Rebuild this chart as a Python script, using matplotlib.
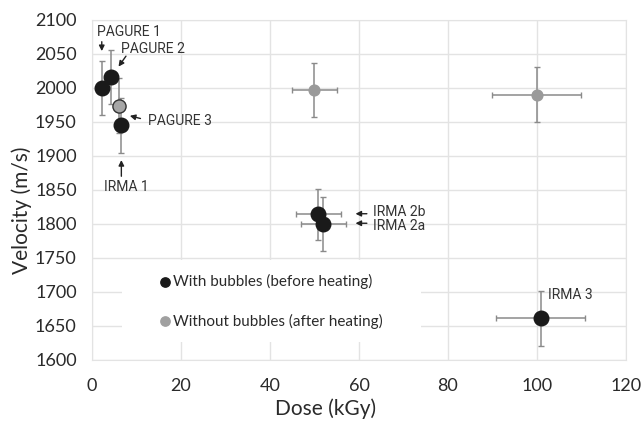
import matplotlib
matplotlib.use("Agg")
import matplotlib.pyplot as plt
from matplotlib.patches import Rectangle

plt.rcParams['font.family'] = ['Lato', 'DejaVu Sans']

# With bubbles (before heating)
dose_b = [2.2, 4.3, 6.6, 50.9, 52.0, 100.9]
vel_b = [2000, 2016, 1945, 1814, 1800, 1661]
xerr_b = [0, 0, 0, 5, 5, 10]
yerr_b = [40, 40, 40, 38, 40, 40]

# Without bubbles (after heating)
dose_w = [6.0, 50.0, 100.0]
vel_w = [1974, 1997, 1990]
xerr_w = [0, 5, 10]
yerr_w = [40, 40, 40]

fig = plt.figure(figsize=(6.41, 4.23), dpi=100)
ax = fig.add_axes([0.1435, 0.149, 0.833, 0.804])

ecol = '#8a8a8a'
ax.errorbar(dose_w, vel_w, xerr=xerr_w, yerr=yerr_w, fmt='none', ecolor=ecol,
            elinewidth=1.1, capsize=2.5, capthick=1.0, zorder=2)
ax.errorbar(dose_b, vel_b, xerr=xerr_b, yerr=yerr_b, fmt='none', ecolor=ecol,
            elinewidth=1.1, capsize=2.5, capthick=1.0, zorder=2)
ax.scatter(dose_b, vel_b, s=110, color='#1a1a1a', zorder=4)
ax.scatter(dose_w[:1], vel_w[:1], s=90, color='#a6a6a6', edgecolor='#333333', linewidth=1.0, zorder=3)
ax.scatter(dose_w[1:], vel_w[1:], s=60, color='#9a9a9a', zorder=3)

ax.set_xlim(0, 120)
ax.set_ylim(1600, 2100)
ax.set_xticks(range(0, 121, 20))
ax.set_yticks(range(1600, 2101, 50))
ax.grid(True, color='#e3e3e3', linewidth=1.0)
ax.set_axisbelow(True)
for s in ax.spines.values():
    s.set_color('#e3e3e3')
ax.tick_params(axis='y', length=0, labelsize=13, colors='#2a2a2a', pad=11)
ax.tick_params(axis='x', length=0, labelsize=13, colors='#2a2a2a', pad=13)
ax.set_xlabel('Dose (kGy)', fontsize=15, color='#2a2a2a')
ax.set_ylabel('Velocity (m/s)', fontsize=15, color='#2a2a2a')
ax.xaxis.set_label_coords(0.438, -0.112)
ax.yaxis.set_label_coords(-0.112, 0.44)

# legend-like box
ax.add_patch(Rectangle((6.7, 1626), 67.3, 121, facecolor='white', edgecolor='none', zorder=5))
ax.scatter([16.4], [1715], s=45, color='#1a1a1a', zorder=6)
ax.scatter([16.4], [1657], s=45, color='#a0a0a0', zorder=6)
ax.text(18.3, 1715, 'With bubbles (before heating)', fontsize=11, va='center', color='#2a2a2a', zorder=6)
ax.text(18.3, 1657, 'Without bubbles (after heating)', fontsize=11, va='center', color='#2a2a2a', zorder=6)

arrow = dict(arrowstyle='-|>', color='#222222', lw=1.0, mutation_scale=8)
afont = dict(fontsize=10, color='#333333', family=['Roboto', 'DejaVu Sans'])
ax.text(1.2, 2082, 'PAGURE 1', ha='left', va='center', **afont)
ax.annotate('', xy=(2.2, 2050), xytext=(2.2, 2072), arrowprops=dict(arrow))
ax.text(6.6, 2057, 'PAGURE 2', ha='left', va='center', **afont)
ax.annotate('', xy=(5.6, 2028), xytext=(8.0, 2050), arrowprops=dict(arrow))
ax.text(12.5, 1952, 'PAGURE 3', ha='left', va='center', **afont)
ax.annotate('', xy=(7.9, 1960), xytext=(11.5, 1954), arrowprops=dict(arrow))
ax.text(2.7, 1855, 'IRMA 1', ha='left', va='center', **afont)
ax.annotate('', xy=(6.6, 1898), xytext=(6.6, 1866), arrowprops=dict(arrow))
ax.text(63.2, 1818, 'IRMA 2b', ha='left', va='center', **afont)
ax.annotate('', xy=(58.6, 1815), xytext=(62.4, 1815), arrowprops=dict(arrow))
ax.text(63.2, 1797, 'IRMA 2a', ha='left', va='center', **afont)
ax.annotate('', xy=(58.6, 1801), xytext=(62.4, 1801), arrowprops=dict(arrow))
ax.text(102.5, 1685, 'IRMA 3', ha='left', va='bottom', **afont)

fig.savefig('out.png', dpi=100)
